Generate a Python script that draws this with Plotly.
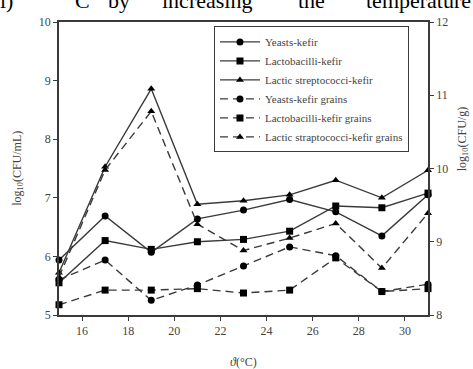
import plotly.graph_objects as go

temps = [15, 17, 19, 21, 23, 25, 27, 29, 31]

yeasts_kefir = [5.94, 6.69, 6.07, 6.64, 6.79, 6.97, 6.76, 6.35, 7.05]
lacto_kefir = [5.55, 6.27, 6.12, 6.25, 6.29, 6.43, 6.86, 6.83, 7.08]
strep_kefir = [5.72, 7.53, 8.86, 6.89, 6.95, 7.05, 7.30, 7.00, 7.47]

yeasts_grains = [8.48, 8.75, 8.20, 8.41, 8.67, 8.93, 8.81, 8.32, 8.42]
lacto_grains = [8.14, 8.34, 8.34, 8.36, 8.30, 8.34, 8.78, 8.32, 8.36]
strep_grains = [8.52, 9.98, 10.78, 9.24, 8.88, 9.05, 9.25, 8.64, 9.39]

names = ["Yeasts-kefir", "Lactobacilli-kefir", "Lactic streptococci-kefir",
         "Yeasts-kefir grains", "Lactobacilli-kefir grains", "Lactic straptococci-kefir grains"]

x_ticks = [16, 18, 20, 22, 24, 26, 28, 30]
left_ticks = [5, 6, 7, 8, 9, 10]
right_ticks = [8, 9, 10, 11, 12]

FONT = "Liberation Serif, Times New Roman, serif"
LINE = "#3a3a3a"

series = [
    (yeasts_kefir, "circle", "solid", "y"),
    (lacto_kefir, "square", "solid", "y"),
    (strep_kefir, "triangle-up", "solid", "y"),
    (yeasts_grains, "circle", "8px,5px", "y2"),
    (lacto_grains, "square", "8px,5px", "y2"),
    (strep_grains, "triangle-up", "8px,5px", "y2"),
]

fig = go.Figure()
for (vals, sym, dash, ax), name in zip(series, names):
    fig.add_trace(go.Scatter(
        x=temps, y=vals, name=name, yaxis=ax, mode="lines+markers",
        line=dict(color=LINE, width=1.4, dash=dash),
        marker=dict(symbol=sym, size=7, color="black"),
        cliponaxis=False,
    ))

axis_common = dict(showgrid=False, zeroline=False, showline=True, linecolor=LINE,
                   linewidth=1.5, ticks="outside", ticklen=4, tickcolor=LINE,
                   tickfont=dict(family=FONT, size=12, color="#444"))

fig.update_layout(
    width=473, height=369,
    margin=dict(l=59, r=45, t=22, b=54),
    paper_bgcolor="white", plot_bgcolor="white",
    showlegend=True,
    legend=dict(x=0.42, y=0.985, xanchor="left", yanchor="top",
                bgcolor="white", bordercolor=LINE, borderwidth=1,
                font=dict(family=FONT, size=11, color="#444"),
                tracegroupgap=0, itemwidth=40),
    xaxis=dict(range=[15, 31], tickvals=x_ticks, mirror=True, **axis_common),
    yaxis=dict(range=[5, 10], tickvals=left_ticks, **axis_common),
    yaxis2=dict(range=[8, 12], tickvals=right_ticks, overlaying="y", side="right",
                **axis_common),
)

fig.add_annotation(text="log<sub>10</sub>(CFU/mL)", xref="paper", yref="paper",
                   x=-0.113, y=0.5, textangle=-90, showarrow=False,
                   xanchor="center", yanchor="middle",
                   font=dict(family=FONT, size=12, color="#444"))
fig.add_annotation(text="log<sub>10</sub>(CFU/g)", xref="paper", yref="paper",
                   x=1.095, y=0.6, textangle=-90, showarrow=False,
                   xanchor="center", yanchor="middle",
                   font=dict(family=FONT, size=12, color="#444"))
fig.add_annotation(text="<i>ϑ</i>(°C)", xref="paper", yref="paper",
                   x=0.5, y=-0.16, showarrow=False, xanchor="center", yanchor="middle",
                   font=dict(family=FONT, size=12, color="#444"))

top_words = [("l)", 6), ("C", 82), ("by", 119), ("increasing", 207), ("the", 311), ("temperature", 418)]
for w, px in top_words:
    fig.add_annotation(text=w, xref="paper", yref="paper",
                       x=(px - 59) / 369, y=(315 - 15) / 293,
                       xanchor="center", yanchor="bottom",
                       showarrow=False, font=dict(family=FONT, size=22, color="black"))

fig.write_html("out.html", config={"displayModeBar": False},
               post_script="document.body.style.margin='0';")
